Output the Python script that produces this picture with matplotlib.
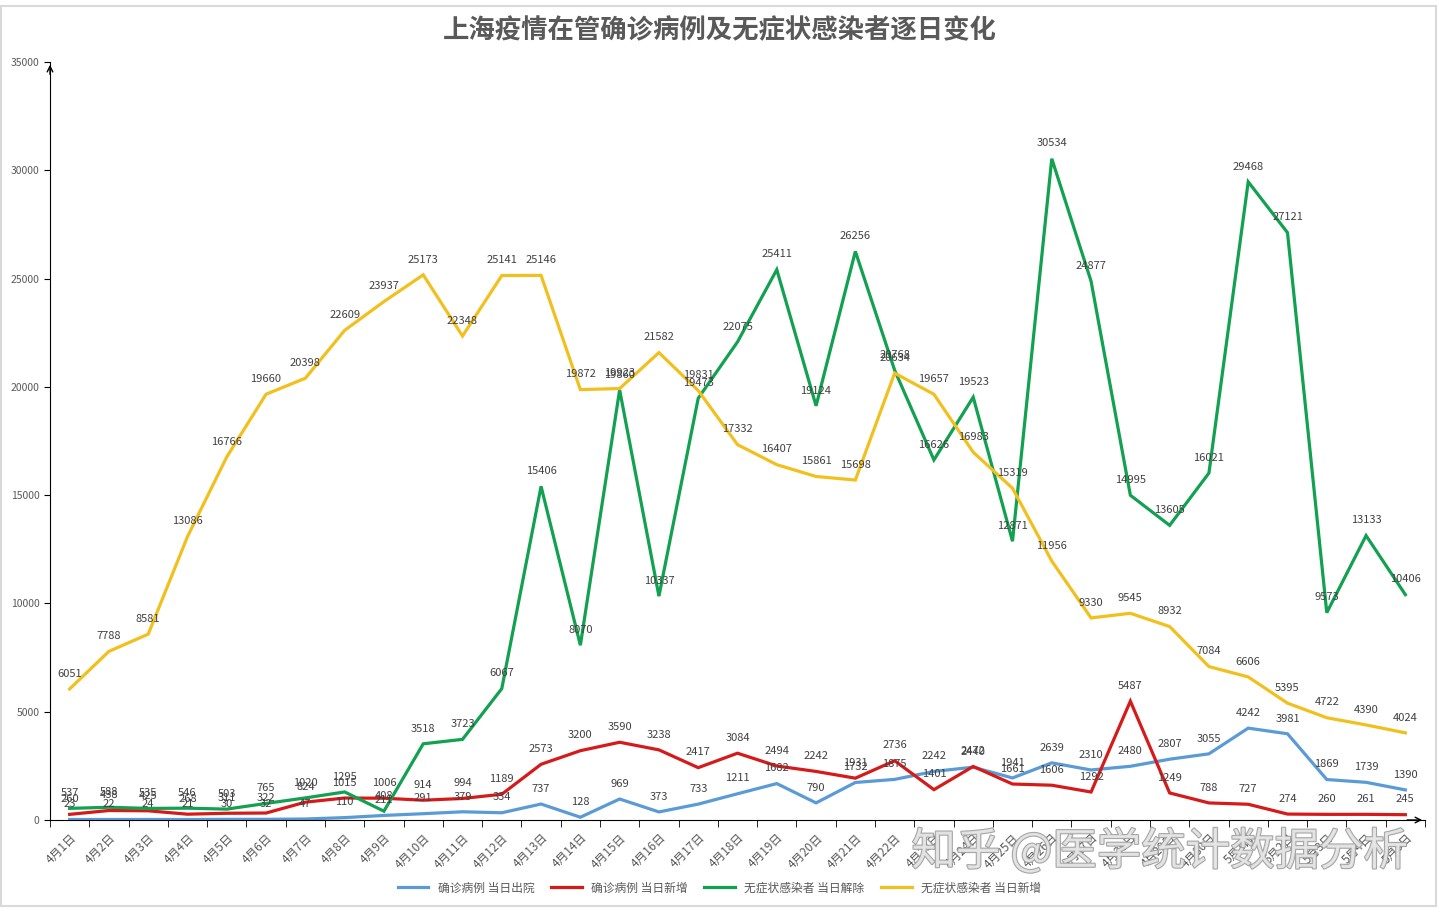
import matplotlib
matplotlib.use("Agg")
import matplotlib.pyplot as plt
import matplotlib.patheffects as pe
import numpy as np

plt.rcParams['font.family'] = ['Noto Sans CJK SC', 'DejaVu Sans']

# === 数据 ===
dates = [f"4月{d}日" for d in range(1, 31)] + [f"5月{d}日" for d in range(1, 6)]

discharged = [23, 22, 24, 21, 30, 32, 47, 110, 211, 291,
              379, 334, 737, 128, 969, 373, 733, 1211, 1682, 790,
              1732, 1875, 2242, 2440, 1941, 2639, 2310, 2480, 2807, 3055,
              4242, 3981, 1869, 1739, 1390]
confirmed_new = [260, 438, 425, 268, 311, 322, 824, 1015, 1006, 914,
                 994, 1189, 2573, 3200, 3590, 3238, 2417, 3084, 2494, 2242,
                 1931, 2736, 1401, 2472, 1661, 1606, 1292, 5487, 1249, 788,
                 727, 274, 260, 261, 245]
asym_released = [537, 588, 535, 546, 503, 765, 1020, 1295, 408, 3518,
                 3723, 6067, 15406, 8070, 19860, 10337, 19473, 22075, 25411, 19124,
                 26256, 20768, 16626, 19523, 12871, 30534, 24877, 14995, 13605, 16021,
                 29468, 27121, 9573, 13133, 10406]
asym_new = [6051, 7788, 8581, 13086, 16766, 19660, 20398, 22609, 23937, 25173,
            22348, 25141, 25146, 19872, 19923, 21582, 19831, 17332, 16407, 15861,
            15698, 20634, 19657, 16983, 15319, 11956, 9330, 9545, 8932, 7084,
            6606, 5395, 4722, 4390, 4024]

series = [
    ("确诊病例 当日出院", discharged, "#5B9BD5"),
    ("确诊病例 当日新增", confirmed_new, "#D61A1A"),
    ("无症状感染者 当日解除", asym_released, "#12A150"),
    ("无症状感染者 当日新增", asym_new, "#F2C01E"),
]

fig = plt.figure(figsize=(14.39, 9.09), dpi=100)
ax = fig.add_axes([50 / 1439, 1 - 820 / 909, 1375 / 1439, 758 / 909])

x = np.arange(len(dates))
for name, vals, color in series:
    ax.plot(x, vals, color=color, linewidth=2.3, label=name, solid_joinstyle='miter')
    for xi, v in zip(x, vals):
        ax.annotate(str(v), (xi, v), xytext=(0, 11), textcoords='offset points',
                    ha='center', va='center', fontsize=8, color='#404040')

ax.set_xlim(-0.5, len(dates) - 0.5)
ax.set_ylim(0, 35000)
ax.set_yticks(range(0, 35001, 5000))
ax.tick_params(axis='y', labelsize=7.5, labelcolor='#595959', length=4, color='#000000')

ax.set_xticks(x)
ax.set_xticklabels(dates, rotation=45, ha='right', rotation_mode='anchor',
                   fontsize=8.5, color='#595959')
ax.set_xticks(np.arange(-0.5, len(dates) + 0.5, 1), minor=True)
ax.tick_params(axis='x', which='major', length=0, pad=8)
ax.tick_params(axis='x', which='minor', length=5, color='#000000')

for s in ['top', 'right']:
    ax.spines[s].set_visible(False)
ax.spines['left'].set_color('#000000')
ax.spines['bottom'].set_color('#000000')

# 坐标轴箭头
ax.annotate('', xy=(1.0, 0), xytext=(0.985, 0), xycoords='axes fraction',
            arrowprops=dict(arrowstyle='->', color='black', lw=1))
ax.annotate('', xy=(0, 1.0), xytext=(0, 0.98), xycoords='axes fraction',
            arrowprops=dict(arrowstyle='->', color='black', lw=1))

fig.text(0.5, 1 - 31 / 909, "上海疫情在管确诊病例及无症状感染者逐日变化",
         ha='center', va='center', fontsize=19, fontweight='bold', color='#595959')

fig.legend(loc='center', bbox_to_anchor=(0.5, 1 - 888 / 909), ncol=4, frameon=False,
           fontsize=8.5, handlelength=2.6, columnspacing=1.4, labelcolor='#595959')

# 水印
fig.text(1160 / 1439, 1 - 852 / 909, "知乎 @医学统计数据分析", ha='center', va='center',
         fontsize=32, color='#e6e6e6', alpha=0.9,
         path_effects=[pe.withStroke(linewidth=1.5, foreground='#9a9a9a')])

# 外框
fig.patches.append(plt.Rectangle((0.001, 0.003), 0.997, 0.99, transform=fig.transFigure,
                                 fill=False, edgecolor='#d9d9d9', linewidth=1.5))

fig.savefig("out.png", dpi=100)
